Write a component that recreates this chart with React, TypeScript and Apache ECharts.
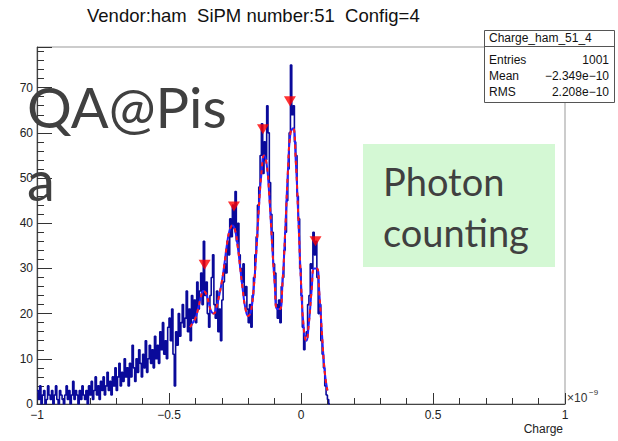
import React, { useEffect, useRef } from "react";
import * as echarts from "echarts";

const TITLE = "Vendor:ham  SiPM number:51  Config=4";
const X_LABEL = "Charge";
const X_MULT = "×10";
const X_EXP = "−9";

// histogram: bins of width 0.005 (×1e-9) starting at -1
const HIST_START = -1.0;
const BIN_WIDTH = 0.005;
const histCounts = [
  3, 1, 4, 0, 2, 3, 0, 1, 4, 2,
  1, 3, 0, 2, 4, 1, 0, 3, 2, 1,
  0, 2, 4, 1, 3, 0, 2, 5, 1, 3,
  2, 0, 3, 1, 4, 2, 1, 3, 0, 4,
  2, 5, 1, 3, 6, 2, 4, 1, 5, 3,
  6, 2, 4, 7, 3, 5, 2, 6, 4, 8,
  3, 6, 9, 4, 7, 5, 10, 6, 8, 4,
  9, 6, 13, 8, 5, 10, 7, 12, 9, 6,
  11, 8, 14, 7, 10, 13, 9, 12, 8, 15,
  10, 13, 9, 16, 12, 18, 11, 14, 10, 17,
  19, 14, 21, 11, 4, 16, 13, 20, 15, 18,
  22, 17, 19, 25, 16, 21, 14, 24, 19, 23,
  18, 27, 21, 25, 29, 22, 36, 24, 27, 20,
  17, 24, 28, 33, 22, 19, 25, 16, 21, 14,
  23, 27, 31, 29, 36, 33, 41, 37, 44, 39,
  47, 36, 40, 33, 30, 27, 31, 24, 26, 21,
  18, 22, 17, 24, 28, 33, 37, 44, 48, 55,
  62, 51, 58, 54, 66, 60, 49, 42, 38, 31,
  29, 22, 19, 23, 18, 26, 28, 34, 38, 45,
  52, 60, 75, 64, 66, 58, 55, 46, 41, 30,
  24, 17, 12, 15, 16, 22, 24, 31, 30, 38,
  33, 36, 28, 20, 22, 14, 11, 8, 4, 2,
  1, 0,
];

// fitted curve sampled every 0.01 from -0.42
const FIT_START = -0.42;
const FIT_STEP = 0.01;
const fitValues = [
  17, 18, 19, 21, 23.5, 25, 24.5, 22.5, 20.5, 20,
  21.5, 24, 27, 31, 35.5, 38.5, 39.5, 38.5, 35, 30,
  25, 21, 19.5, 20.5, 25, 33, 43, 51, 55, 53,
  46, 36, 27, 21, 21, 27, 38, 51, 60, 61,
  54, 41, 27, 17, 14, 18, 25, 30, 30, 24,
  15, 7, 3,
];

// peak markers found by the search
const peakX = [-0.365, -0.254, -0.144, -0.042, 0.055];
const peakY = [30.8, 43.7, 60.8, 67, 36];

const statsName = "Charge_ham_51_4";
const statsLabels = ["Entries", "Mean", "RMS"];
const statsValues = ["1001", "−2.349e−10", "2.208e−10"];

const FONT = "Liberation Sans, Arial, Helvetica, sans-serif";
const BIG_FONT = "Lato, 'Open Sans', sans-serif";

export default function App() {
  const ref = useRef<HTMLDivElement>(null);

  useEffect(() => {
    document.body.style.margin = "0";
    if (!ref.current) return;
    const chart = echarts.init(ref.current, undefined, { renderer: "svg" });

    const histData: number[][] = histCounts.map((c, i) => [
      +(HIST_START + i * BIN_WIDTH).toFixed(4),
      c,
    ]);
    histData.push([
      +(HIST_START + histCounts.length * BIN_WIDTH).toFixed(4),
      0,
    ]);
    const fitData = fitValues.map((v, i) => [
      +(FIT_START + i * FIT_STEP).toFixed(4),
      v,
    ]);
    const peakData = peakX.map((x, i) => [x, peakY[i]]);

    const minus = (v: number) => String(v).replace("-", "−");

    const statsRows: any[] = [];
    statsLabels.forEach((lab, i) => {
      statsRows.push({
        type: "text",
        left: 489,
        top: 54 + i * 16,
        z: 101,
        style: { text: lab, font: `12px ${FONT}`, fill: "#111" },
      });
      statsRows.push({
        type: "text",
        right: 9,
        top: 54 + i * 16,
        z: 101,
        style: { text: statsValues[i], font: `12px ${FONT}`, fill: "#111" },
      });
    });

    chart.setOption({
      animation: false,
      backgroundColor: "#ffffff",
      grid: {
        left: 37,
        right: 53,
        top: 47,
        bottom: 37,
        show: true,
        borderColor: "#999999",
        borderWidth: 1,
        containLabel: false,
      },
      xAxis: {
        type: "value",
        min: -1,
        max: 1,
        interval: 0.5,
        axisLine: { show: true, onZero: false, lineStyle: { color: "#444", width: 1.2 } },
        axisTick: { show: true, inside: true, length: 11, lineStyle: { color: "#333" } },
        minorTick: { show: true, splitNumber: 5, length: 6, lineStyle: { color: "#333" } },
        splitLine: { show: false },
        axisLabel: {
          margin: 5,
          fontSize: 12,
          fontFamily: FONT,
          color: "#222",
          formatter: (v: number) => minus(v),
        },
      },
      yAxis: {
        type: "value",
        min: 0,
        max: 79,
        interval: 10,
        axisLine: { show: true, onZero: false, lineStyle: { color: "#444", width: 1.2 } },
        axisTick: { show: true, inside: true, length: 15, lineStyle: { color: "#333" } },
        minorTick: { show: true, splitNumber: 5, length: 7, lineStyle: { color: "#333" } },
        splitLine: { show: false },
        axisLabel: {
          margin: 4,
          fontSize: 12,
          fontFamily: FONT,
          color: "#222",
          showMaxLabel: false,
          formatter: (v: number) => (v % 10 === 0 ? String(v) : ""),
        },
      },
      series: [
        {
          type: "line",
          data: histData,
          step: "end",
          symbol: "none",
          lineStyle: { color: "#0a0a9a", width: 1.6 },
          z: 2,
        },
        {
          type: "line",
          data: fitData,
          smooth: true,
          symbol: "none",
          lineStyle: { color: "#2222ff", width: 2 },
          z: 3,
        },
        {
          type: "line",
          data: fitData,
          smooth: true,
          symbol: "none",
          lineStyle: { color: "#ff1a1a", width: 2, type: [4, 4] },
          z: 4,
        },
        {
          type: "scatter",
          data: peakData,
          symbol: "triangle",
          symbolRotate: 180,
          symbolSize: [12, 10],
          itemStyle: { color: "#ff0000" },
          z: 5,
        },
      ],
      graphic: [
        {
          type: "text",
          left: 87,
          top: 6,
          style: { text: TITLE, font: `18.5px ${FONT}`, fill: "#111" },
        },
        {
          type: "text",
          left: 567,
          top: 392,
          style: { text: X_MULT, font: `12px ${FONT}`, fill: "#333" },
        },
        {
          type: "text",
          left: 589,
          top: 388,
          style: { text: X_EXP, font: `8px ${FONT}`, fill: "#333" },
        },
        {
          type: "text",
          right: 55,
          top: 423,
          style: { text: X_LABEL, font: `12px ${FONT}`, fill: "#222" },
        },
        // stats box
        {
          type: "rect",
          z: 100,
          shape: { x: 484.5, y: 30.5, width: 130, height: 72 },
          style: { fill: "#ffffff", stroke: "#555", lineWidth: 1 },
        },
        {
          type: "line",
          z: 101,
          shape: { x1: 484.5, y1: 46.5, x2: 614.5, y2: 46.5 },
          style: { stroke: "#555", lineWidth: 1 },
        },
        {
          type: "text",
          left: 489,
          top: 32,
          z: 101,
          style: { text: statsName, font: `12px ${FONT}`, fill: "#111" },
        },
        ...statsRows,
        // overlay texts
        {
          type: "text",
          left: 27,
          top: 78,
          z: 110,
          style: { text: "QA@Pis", font: `56px ${BIG_FONT}`, fill: "#404040" },
        },
        {
          type: "text",
          left: 27,
          top: 151,
          z: 110,
          style: { text: "a", font: `56px ${BIG_FONT}`, fill: "#404040" },
        },
        {
          type: "rect",
          z: 108,
          shape: { x: 363, y: 144, width: 192, height: 123 },
          style: { fill: "#d4f8d4" },
        },
        {
          type: "text",
          left: 383,
          top: 162,
          z: 110,
          style: { text: "Photon", font: `38px ${BIG_FONT}`, fill: "#404040" },
        },
        {
          type: "text",
          left: 383,
          top: 213,
          z: 110,
          style: { text: "counting", font: `38px ${BIG_FONT}`, fill: "#404040" },
        },
      ],
    });

    return () => chart.dispose();
  }, []);

  return (
    <div
      ref={ref}
      style={{ position: "fixed", left: 0, top: 0, width: 618, height: 441 }}
    />
  );
}
